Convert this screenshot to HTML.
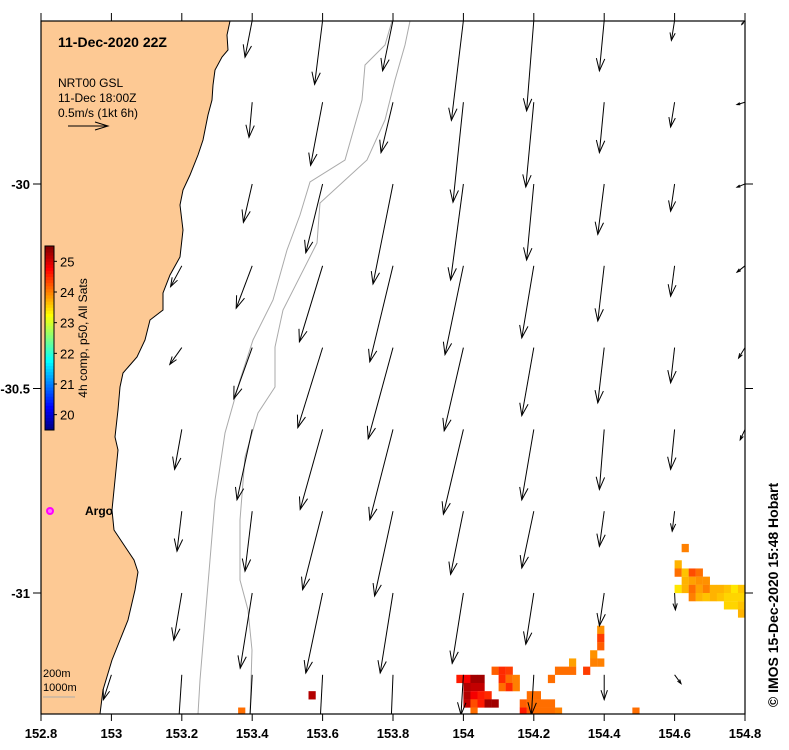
<!DOCTYPE html>
<html><head><meta charset="utf-8"><style>
html,body{margin:0;padding:0;background:#fff;}
svg{display:block;font-family:"Liberation Sans",sans-serif;}
</style></head><body>
<svg id="chart" width="789" height="750" viewBox="0 0 789 750">
<defs><clipPath id="pc"><rect x="41" y="21" width="704" height="693"/></clipPath></defs>
<g id="plot" clip-path="url(#pc)">
<polygon id="land" fill="#fdc994" stroke="#000" stroke-width="1"
points="41,21 230,21 227,35 228,50 222,57 215,70 213,85 212,100 208,115 205,130 203,140 198,155 190,175 183,190 180,205 183,230 180,257 170,275 163,293 163,310 150,320 145,340 137,357 123,373 120,387 118,410 115,437 118,450 115,480 112,510 114,530 124,545 134,560 138,572 135,590 128,620 120,640 112,660 103,690 100,714 41,714"/>
<polyline fill="none" stroke="#aaa" stroke-width="1" points="392,21 385,45 365,65 362,100 345,160 310,182 300,215 287,250 273,300 253,340 240,380 225,433 215,500 210,560 205,620 200,680 198,714"/>
<polyline fill="none" stroke="#aaa" stroke-width="1" points="410,21 405,45 395,80 385,120 367,160 320,203 317,243 283,310 275,347 275,387 258,413 245,457 240,520 240,580 248,610 252,650 250,714"/>
<g id="sst"></g>
<g id="vec"></g>
</g>
<rect x="41" y="21" width="704" height="693" fill="none" stroke="#000" stroke-width="1.2"/>
<g id="axes" font-weight="bold" font-size="13"></g>
<text x="58" y="47" font-size="14" font-weight="bold">11-Dec-2020 22Z</text>
<g font-size="12">
<text x="58" y="87">NRT00 GSL</text>
<text x="58" y="102">11-Dec 18:00Z</text>
<text x="58" y="117">0.5m/s (1kt 6h)</text>
<line x1="68" y1="126" x2="108" y2="126" stroke="#000"/>
<polyline points="95,122 108,126 95,130" fill="none" stroke="#000"/>
</g>
<g id="cbar"></g>
<text transform="translate(87,338) rotate(-90)" text-anchor="middle" font-size="12">4h comp, p50, All Sats</text>
<circle cx="50" cy="511" r="3" fill="#f6f" stroke="#f0f" stroke-width="2"/>
<text x="85" y="515" font-size="12" font-weight="bold">Argo</text>
<g font-size="11">
<text x="43" y="677">200m</text><text x="43" y="691">1000m</text>
<line x1="43" y1="697" x2="75" y2="697" stroke="#aaa"/>
</g>
<text transform="translate(778,595) rotate(-90)" text-anchor="middle" font-size="14" font-weight="bold">© IMOS 15-Dec-2020 15:48 Hobart</text>
</svg>
<script>
const xTicks=[152.8,153,153.2,153.4,153.6,153.8,154,154.2,154.4,154.6,154.8];
const yTicks=[-30,-30.5,-31];
const yTickLabels=["-30","-30.5","-31"];
const vecLons=[153.0,153.2,153.4,153.6,153.8,154.0,154.2,154.4,154.6,154.8];
const vecLats=[-29.6,-29.8,-30.0,-30.2,-30.4,-30.6,-30.8,-31.0,-31.2];
// currents in cm/s (null = no data)
const uRows=[
[null,null,-9,-10,-13,-15,-9,-6,-4,-4],
[null,null,-4,-15,-15,-13,-10,-6,-5,-10],
[null,null,-11,-21,-25,-16,-9,-8,-5,-10],
[null,-14,-20,-29,-29,-23,-15,-8,-5,-10],
[null,-15,-23,-31,-31,-24,-15,-8,-5,-8],
[null,-9,-19,-28,-29,-25,-15,-6,-5,-6],
[null,-6,-9,-25,-23,-16,-15,-6,-3,null],
[null,-10,-15,-21,-16,-14,-10,-6,1,null],
[-10,-5,-4,-4,-3,-3,-3,0,8,null]];
const vRows=[
[null,null,-46,-80,-63,-125,-113,-63,-25,-5],
[null,null,-44,-79,-63,-125,-106,-63,-31,-3],
[null,null,-48,-86,-125,-120,-95,-63,-34,-4],
[null,-26,-53,-95,-120,-111,-90,-69,-38,-8],
[null,-21,-64,-100,-114,-104,-85,-69,-44,-13],
[null,-50,-88,-100,-113,-106,-88,-75,-50,-13],
[null,-50,-75,-98,-106,-79,-71,-44,-25,null],
[null,-59,-94,-100,-100,-88,-64,-41,-21,null],
[-31,-75,-75,-75,-75,-50,-50,-31,-11,null]];
const sstLon=[154.62,154.60,154.60,154.62,154.64,154.66,154.62,154.64,154.66,154.68,
154.60,154.62,154.64,154.66,154.68,154.70,154.72,154.74,154.76,154.78,
154.64,154.66,154.68,154.70,154.72,154.74,154.76,154.78,154.74,154.76,154.78,154.78,
154.38,154.38,154.38,154.36,154.36,154.38,154.30,
154.08,154.10,154.12,154.26,154.28,154.30,154.34,
153.98,154.00,154.02,154.04,154.10,154.12,154.14,154.24,
154.00,154.02,154.04,154.10,154.12,154.14,
154.00,154.02,154.04,154.06,154.18,154.20,
154.00,154.02,154.04,154.06,154.08,154.16,154.18,154.20,154.22,154.24,
154.02,154.16,154.18,154.20,154.22,154.24,154.26,154.48,153.56,153.36];
const sstLat=[-30.88,-30.92,-30.94,-30.94,-30.94,-30.94,-30.96,-30.96,-30.96,-30.96,
-30.98,-30.98,-30.98,-30.98,-30.98,-30.98,-30.98,-30.98,-30.98,-30.98,
-31.00,-31.00,-31.00,-31.00,-31.00,-31.00,-31.00,-31.00,-31.02,-31.02,-31.02,-31.04,
-31.08,-31.10,-31.12,-31.14,-31.16,-31.16,-31.16,
-31.18,-31.18,-31.18,-31.18,-31.18,-31.18,-31.18,
-31.20,-31.20,-31.20,-31.20,-31.20,-31.20,-31.20,-31.20,
-31.22,-31.22,-31.22,-31.22,-31.22,-31.22,
-31.24,-31.24,-31.24,-31.24,-31.24,-31.24,
-31.26,-31.26,-31.26,-31.26,-31.26,-31.26,-31.26,-31.26,-31.26,-31.26,
-31.28,-31.28,-31.28,-31.28,-31.28,-31.28,-31.28,-31.28,-31.24,-31.28];
const sstVal=[24.0,23.7,24.1,23.6,24.3,24.1,23.7,23.8,23.9,23.9,
23.4,23.7,24.1,23.8,24.0,23.7,23.7,23.6,23.4,23.6,
24.0,23.7,23.6,23.7,23.6,23.5,23.5,23.5,23.5,23.5,23.6,23.7,
23.9,24.4,24.2,23.9,24.0,24.0,23.8,
24.2,24.5,24.4,24.1,24.1,24.1,24.4,
24.6,24.8,25.3,25.3,24.5,24.1,24.0,24.1,
25.2,25.1,25.1,24.1,24.5,24.0,
25.2,24.8,24.6,24.5,24.1,24.1,
25.1,24.3,24.6,25.3,25.3,24.2,24.1,24.1,24.1,24.1,
24.1,24.6,24.2,24.1,24.1,24.1,24.0,24.1,25.2,24.1];
const cbTicks=[20,21,22,23,24,25];
const NS="http://www.w3.org/2000/svg";
function X(lon){return 41+(lon-152.8)*352;}
function Y(lat){return 184+(-30-lat)*409;}
const TMIN=19.5,TMAX=25.5;
function CY(t){return 430-(t-TMIN)/(TMAX-TMIN)*184;}
function jet(t){let f=Math.max(0,Math.min(1,(t-TMIN)/(TMAX-TMIN)));
 const c=x=>Math.round(255*Math.max(0,Math.min(1,1.5-Math.abs(4*f-x))));
 return `rgb(${c(3)},${c(2)},${c(1)})`;}
function mk(tag,attrs,parent){const e=document.createElementNS(NS,tag);for(const k in attrs)e.setAttribute(k,attrs[k]);parent.appendChild(e);return e;}
const sst=document.getElementById('sst');
for(let i=0;i<sstVal.length;i++){
 const r=mk('rect',{x:X(sstLon[i]),y:Y(sstLat[i]),width:7.2,height:8.3,fill:jet(sstVal[i])},sst);
 
 
}
const vec=document.getElementById('vec');
const S=0.8;
for(let r=0;r<vecLats.length;r++)for(let c=0;c<vecLons.length;c++){
 const u=uRows[r][c],v=vRows[r][c];if(u===null)continue;
 const x0=X(vecLons[c]),y0=Y(vecLats[r]),x1=x0+u*S,y1=y0-v*S;
 const g=mk('g',{stroke:'#000','stroke-width':1,fill:'none'},vec);
 
 
 mk('line',{x1:x0,y1:y0,x2:x1,y2:y1},g);
 const L=Math.hypot(x1-x0,y1-y0);if(L<1)continue;
 const a=Math.atan2(y1-y0,x1-x0),h=Math.min(13,L*0.4);
 const p=(s)=>`${x1-h*Math.cos(a+s)},${y1-h*Math.sin(a+s)}`;
 mk('polyline',{points:`${p(0.33)} ${x1},${y1} ${p(-0.33)}`},g);
}
const ax=document.getElementById('axes');
xTicks.forEach(t=>{const x=X(t);
 mk('line',{x1:x,y1:13,x2:x,y2:21,stroke:'#000'},ax);
 mk('line',{x1:x,y1:714,x2:x,y2:721,stroke:'#000'},ax);
 const tx=mk('text',{x:x,y:738,'text-anchor':'middle'},ax);tx.textContent=String(t);
 
 
});
yTicks.forEach((t,i)=>{const y=Y(t);
 mk('line',{x1:33,y1:y,x2:41,y2:y,stroke:'#000'},ax);
 mk('line',{x1:745,y1:y,x2:753,y2:y,stroke:'#000'},ax);
 const tx=mk('text',{x:30,y:y+5,'text-anchor':'end'},ax);tx.textContent=yTickLabels[i];
 
 
});
const cb=document.getElementById('cbar');
for(let t=TMIN;t<TMAX-0.01;t+=0.1){mk('rect',{x:45,y:CY(t+0.1),width:9,height:184/60+0.4,fill:jet(t+0.05)},cb);}
mk('rect',{x:45,y:246,width:9,height:184,fill:'none',stroke:'#000'},cb);
cbTicks.forEach(t=>{const y=CY(t);mk('line',{x1:54,y1:y,x2:57,y2:y,stroke:'#000'},cb);
 const tx=mk('text',{x:60,y:y+5,'font-size':13},cb);tx.textContent=t;
 
 });
</script>
</body></html>
